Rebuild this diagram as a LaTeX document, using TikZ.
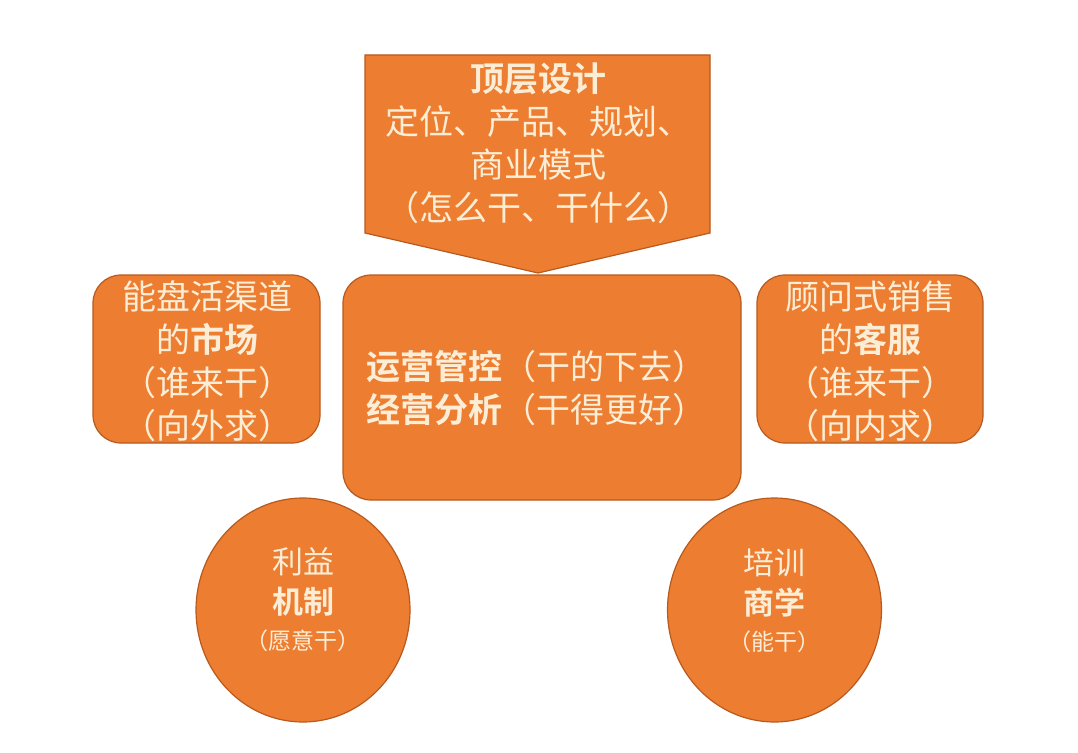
\documentclass[tikz,border=0pt]{standalone}
\usepackage{fontspec}
\newfontfamily\cjk{Noto Sans CJK SC}[BoldFont={Noto Sans CJK SC Bold}]
\usetikzlibrary{shapes.geometric}
\definecolor{org}{HTML}{ED7D31}
\definecolor{edgec}{HTML}{B85A1E}
\definecolor{txt}{HTML}{FCEED6}
\begin{document}
\begin{tikzpicture}[x=1pt,y=-1pt,
  shapefill/.style={draw=edgec, line width=1.2pt, fill=org},
  box/.style={shapefill, rounded corners=28pt, inner sep=0pt},
  circ/.style={shapefill, ellipse, inner sep=0pt},
  lbl/.style={text=txt, font=\cjk\fontsize{34}{43}\selectfont, align=center, inner sep=0pt},
  small/.style={text=txt, font=\cjk\fontsize{31}{40}\selectfont, align=center, inner sep=0pt}]
\useasboundingbox (0,0) rectangle (1078,752);
\fill[white] (0,0) rectangle (1078,752);
% top arrow
\path[shapefill] (365,55) -- (710,55) -- (710,233) -- (538,273) -- (365,233) -- cycle;
\node[lbl] (top) at (538,143) {\textbf{顶层设计}\\定位、产品、规划、\\商业模式\\（怎么干、干什么）};
% boxes
\node[box, minimum width=398pt, minimum height=225pt] (center) at (542,387.5) {};
\node[lbl] (centertxt) at (536,388) {\textbf{运营管控}（干的下去）\\\textbf{经营分析}（干得更好）};
\node[box, minimum width=227pt, minimum height=168pt] (left) at (206.5,359) {};
\node[lbl] (lefttxt) at (207,361) {能盘活渠道\\的\textbf{市场}\\（谁来干）\\（向外求）};
\node[box, minimum width=226pt, minimum height=168pt] (right) at (870,359) {};
\node[lbl] (righttxt) at (870,361) {顾问式销售\\的\textbf{客服}\\（谁来干）\\（向内求）};
% circles
\node[circ, minimum width=214pt, minimum height=224pt] (lc) at (303,610) {};
\node[small] (lctxt) at (303,600) {利益\\\textbf{机制}\\[-4pt]{\fontsize{23}{30}\selectfont（愿意干）}};
\node[circ, minimum width=214pt, minimum height=224pt] (rc) at (774.5,610) {};
\node[small] (rctxt) at (774.5,600) {培训\\\textbf{商学}\\[-4pt]{\fontsize{23}{30}\selectfont（能干）}};
\end{tikzpicture}
\end{document}
